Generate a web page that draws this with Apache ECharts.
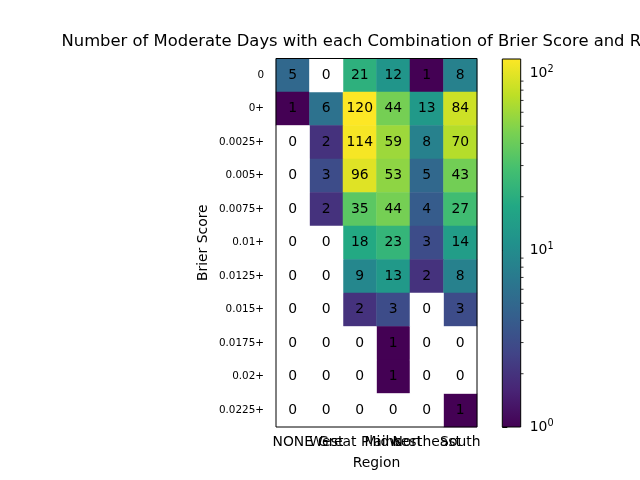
<!DOCTYPE html>
<html><head><meta charset="utf-8">
<script src="https://cdn.jsdelivr.net/npm/echarts@6/dist/echarts.min.js"></script>
<style>html,body{margin:0;padding:0;background:#fff}#c{width:640px;height:480px}</style>
</head><body><div id="c"></div>
<script>
const regions = ['NONE', 'West', 'Great Plains', 'Midwest', 'Northeast', 'South'];
const brierBins = ['0', '0+', '0.0025+', '0.005+', '0.0075+', '0.01+', '0.0125+', '0.015+', '0.0175+', '0.02+', '0.0225+'];
// counts[row][col], rows follow brierBins, cols follow regions
const counts = [
  [5, 0, 21, 12, 1, 8],
  [1, 6, 120, 44, 13, 84],
  [0, 2, 114, 59, 8, 70],
  [0, 3, 96, 53, 5, 43],
  [0, 2, 35, 44, 4, 27],
  [0, 0, 18, 23, 3, 14],
  [0, 0, 9, 13, 2, 8],
  [0, 0, 2, 3, 0, 3],
  [0, 0, 0, 1, 0, 0],
  [0, 0, 0, 1, 0, 0],
  [0, 0, 0, 0, 0, 1]
];
const colorMin = 1, colorMax = 120;
const viridis = ['#440154','#482475','#414487','#355f8d','#2a788e','#21918c','#22a884','#44bf70','#7ad151','#bddf26','#fde725'];

const FONT = 'DejaVu Sans';
const lmin = Math.log10(colorMin), lmax = Math.log10(colorMax);
const cells = [], zeroCells = [];
counts.forEach((row, r) => row.forEach((v, c) => {
  if (v > 0) cells.push([c, r, v, Math.log10(v)]);
  else zeroCells.push([c, r, v]);
}));
const minorTicks = [];
for (let d = 0; d <= 2; d++) for (let k = 2; k <= 9; k++) {
  const v = k * Math.pow(10, d);
  if (v <= colorMax) minorTicks.push(Math.log10(v));
}
const cellLabel = {show: true, formatter: p => String(p.value[2]), fontFamily: FONT, fontSize: 13.9, color: '#000'};

const chart = echarts.init(document.getElementById('c'), null, {renderer: 'canvas'});
chart.setOption({
  animation: false,
  backgroundColor: '#fff',
  title: {
    text: 'Number of Moderate Days with each Combination of Brier Score and Region',
    left: 61.5, top: 34, padding: 0,
    textStyle: {fontFamily: FONT, fontSize: 16.4, fontWeight: 'normal', color: '#000', width: 800, overflow: 'none'}
  },
  grid: [
    {left: 276, right: 163, top: 58.5, bottom: 53, show: true, borderColor: '#000', borderWidth: 1, backgroundColor: 'transparent', z: 10},
    {left: 502.3, width: 18.4, top: 59, bottom: 53}
  ],
  xAxis: [
    {type: 'category', data: regions, gridIndex: 0, name: 'Region', nameLocation: 'middle', nameGap: 29,
      nameTextStyle: {fontFamily: FONT, fontSize: 13.9, color: '#000'},
      axisLine: {show: false}, axisTick: {alignWithLabel: true, length: 5, lineStyle: {color: '#000'}},
      axisLabel: {interval: 0, fontFamily: FONT, fontSize: 13.9, color: '#000', margin: 8},
      splitLine: {show: false}},
    {type: 'value', gridIndex: 1, min: 0, max: 1, show: false}
  ],
  yAxis: [
    {type: 'category', data: brierBins, inverse: true, gridIndex: 0, name: 'Brier Score', nameLocation: 'middle', nameGap: 66,
      nameTextStyle: {fontFamily: FONT, fontSize: 13.9, color: '#000'},
      axisLine: {show: false}, axisTick: {alignWithLabel: true, length: 5, lineStyle: {color: '#000'}},
      axisLabel: {interval: 0, fontFamily: FONT, fontSize: 10.4, color: '#000', margin: 12},
      splitLine: {show: false}},
    {type: 'value', gridIndex: 1, position: 'right', min: lmin, max: lmax, interval: 1,
      axisLine: {show: false}, axisTick: {show: true, length: 5, lineStyle: {color: '#000'}},
      splitLine: {show: false},
      axisLabel: {showMaxLabel: false, margin: 9,
        formatter: v => '{b|10}{s|' + Math.round(v) + '}',
        rich: {b: {fontFamily: FONT, fontSize: 13.9, color: '#000'},
               s: {fontFamily: FONT, fontSize: 9.7, color: '#000', padding: [0, 0, 8, 0]}}}}
  ],
  visualMap: {
    type: 'continuous', show: false, seriesIndex: 0, dimension: 3,
    min: lmin, max: lmax, inRange: {color: viridis}
  },
  series: [
    {type: 'heatmap', xAxisIndex: 0, yAxisIndex: 0, data: cells,
      encode: {x: 0, y: 1, value: 2}, label: cellLabel, itemStyle: {borderWidth: 0}},
    {type: 'heatmap', xAxisIndex: 0, yAxisIndex: 0, data: zeroCells,
      encode: {x: 0, y: 1, value: 2}, label: cellLabel, itemStyle: {color: '#ffffff', borderWidth: 0}},
    {type: 'custom', xAxisIndex: 1, yAxisIndex: 1, data: [[0, lmin, lmax]], z: 3,
      renderItem: (params, api) => {
        const p0 = api.coord([0, api.value(2)]);
        const p1 = api.coord([1, api.value(1)]);
        const stops = viridis.map((c, i) => ({offset: i / (viridis.length - 1), color: c}));
        return {type: 'rect', shape: {x: p0[0], y: p0[1], width: p1[0] - p0[0], height: p1[1] - p0[1]},
          style: {fill: new echarts.graphic.LinearGradient(0, 1, 0, 0, stops), stroke: '#000', lineWidth: 1}};
      }},
    {type: 'custom', xAxisIndex: 1, yAxisIndex: 1, data: minorTicks.map(t => [1, t]), z: 4,
      renderItem: (params, api) => {
        const p = api.coord([1, api.value(1)]);
        return {type: 'line', shape: {x1: p[0], y1: p[1], x2: p[0] + 2.8, y2: p[1]}, style: {stroke: '#000', lineWidth: 0.8}};
      }}
  ]
});
</script></body></html>
